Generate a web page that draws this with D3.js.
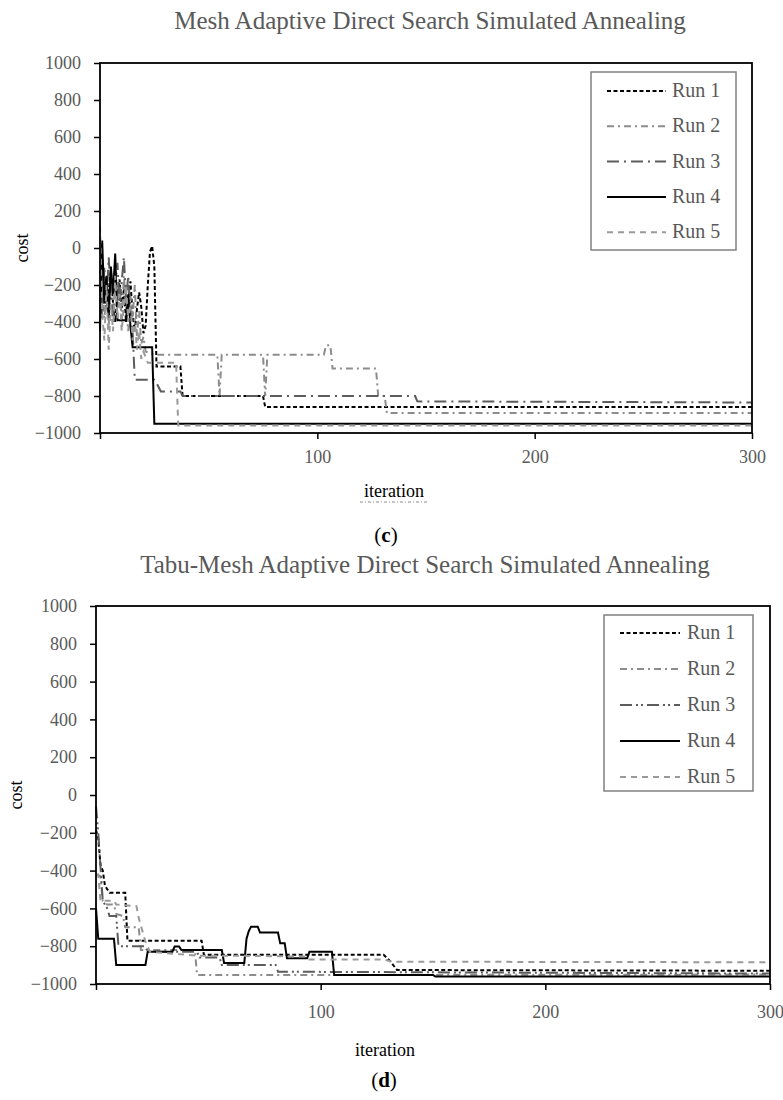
<!DOCTYPE html>
<html lang="en">
<head>
<meta charset="utf-8">
<title>Mesh Adaptive Direct Search Simulated Annealing runs</title>
<script src="https://cdn.jsdelivr.net/npm/d3@7"></script>
<style>
body { margin: 0; background: #fff; }
svg text { font-family: "Liberation Serif", "Times New Roman", serif; }
</style>
</head>
<body>
<script>

// ---- data ----
const runNames = ["Run 1", "Run 2", "Run 3", "Run 4", "Run 5"];
const iterTicks = [0, 100, 200, 300];
const costTicks = [-1000, -800, -600, -400, -200, 0, 200, 400, 600, 800, 1000];

// (c) Mesh Adaptive Direct Search Simulated Annealing : [iteration, cost]
const madsRun1 = [[0,-120],[1,-260],[2,-180],[3,-330],[4,-230],[5,-120],[6,-300],[7,-400],[8,-260],[9,-170],
  [10,-330],[11,-220],[12,-400],[13,-290],[14,-180],[15,-360],[16,-450],[17,-330],[18,-240],[19,-320],
  [20,-460],[21,-420],[22,-200],[23,-20],[24,10],[25,-100],[26,-640],[37,-640],[38,-800],[75,-800],
  [76,-859],[300,-859]];
const madsRun2 = [[0,-300],[1,-120],[2,-380],[3,-250],[4,-420],[5,-180],[6,-320],[7,-100],[8,-300],[9,-200],
  [10,-400],[11,-150],[12,-330],[13,-450],[14,-260],[15,-380],[16,-200],[17,-480],[18,-340],[19,-520],
  [20,-480],[21,-560],[25,-577],[54,-577],[55,-800],[56,-577],[75,-577],[76,-800],[77,-577],[103,-577],
  [104,-526],[106,-526],[107,-652],[127,-652],[128,-800],[131,-800],[132,-892],[300,-892]];
const madsRun3 = [[0,-200],[1,-380],[2,-100],[3,-300],[4,-50],[5,-250],[6,-400],[7,-200],[8,-80],[9,-300],
  [10,-180],[11,-50],[12,-280],[13,-150],[14,-350],[15,-450],[16,-712],[25,-712],[26,-730],[28,-775],
  [37,-775],[38,-800],[145,-800],[146,-829],[300,-835]];
const madsRun4 = [[0,-450],[1,40],[2,-300],[3,-150],[4,-380],[5,-100],[6,-250],[7,-30],[8,-390],[12,-390],
  [13,-250],[14,-420],[15,-537],[24,-537],[25,-950],[300,-950]];
const madsRun5 = [[0,120],[1,-350],[2,-500],[3,-200],[4,-550],[5,-300],[6,-450],[7,-150],[8,-380],[9,-250],
  [10,-450],[11,-300],[12,-200],[13,-400],[14,-300],[15,-500],[16,-380],[17,-550],[18,-450],[19,-600],
  [20,-560],[22,-620],[35,-620],[36,-960],[300,-960]];

// (d) Tabu-Mesh Adaptive Direct Search Simulated Annealing : [iteration, cost]
const tabuRun1 = [[0,-185],[1,-230],[2,-370],[3,-400],[4,-480],[6,-517],[13,-517],[14,-771],[47,-771],
  [48,-845],[128,-845],[131,-880],[134,-926],[300,-930]];
const tabuRun2 = [[0,-420],[2,-430],[3,-560],[5,-580],[8,-580],[9,-630],[12,-640],[13,-700],[19,-700],
  [20,-820],[44,-820],[45,-953],[300,-950]];
const tabuRun3 = [[0,-60],[1,-200],[2,-380],[3,-560],[5,-600],[6,-640],[9,-640],[10,-800],[22,-800],
  [23,-830],[45,-830],[46,-860],[55,-860],[56,-899],[80,-899],[81,-935],[300,-945]];
const tabuRun4 = [[0,-600],[1,-760],[8,-760],[9,-899],[22,-899],[23,-829],[34,-829],[35,-802],[37,-802],
  [38,-820],[56,-820],[57,-889],[66,-889],[67,-760],[68,-720],[69,-697],[72,-697],[73,-728],[81,-728],
  [82,-785],[84,-785],[85,-864],[94,-864],[95,-829],[105,-829],[106,-952],[150,-952],[151,-960],[300,-960]];
const tabuRun5 = [[0,-420],[1,-420],[2,-560],[8,-560],[9,-580],[18,-588],[19,-650],[22,-776],[24,-830],
  [45,-850],[60,-850],[93,-855],[94,-870],[128,-870],[132,-882],[300,-885]];

// ---- styles ----
const runStyles = [
  {color: "#000", dash: "4,2.5"},
  {color: "#8c8c8c", dash: "7,4,2,4"},
  {color: "#5c5c5c", dash: "12,5,2,5"},
  {color: "#000", dash: null},
  {color: "#9a9a9a", dash: "6,5"}
];
const gray = "#595959";
const serif = "'Liberation Serif', 'Times New Roman', serif";

var svg = d3.select("body").append("svg")
  .attr("width", 783)
  .attr("height", 1100)
  .attr("font-family", serif);

svg.append("rect").attr("width", 783).attr("height", 1100).attr("fill", "#fff");

function drawPanel(p) {
  var x = d3.scaleLinear().domain([0, 300]).range([p.left, p.right]);
  var y = d3.scaleLinear().domain([-1000, 1000]).range([p.bottom, p.top]);

  //title
  svg.append("text")
    .attr("x", p.titleX).attr("y", p.titleY)
    .attr("text-anchor", "middle")
    .attr("font-size", 25).attr("fill", gray)
    .text(p.title);

  //y axis
  var gy = svg.append("g")
    .attr("transform", "translate(" + p.left + ",0)")
    .call(d3.axisLeft(y).tickValues(costTicks).tickSize(6).tickSizeOuter(0).tickPadding(13)
      .tickFormat(d3.format("d")));
  gy.attr("font-family", serif).attr("font-size", 18);
  gy.select(".domain").remove();
  gy.selectAll("line").attr("stroke", "#000").attr("stroke-width", 1.5);
  gy.selectAll("text").attr("fill", gray);

  //x axis
  var gx = svg.append("g")
    .attr("transform", "translate(0," + p.bottom + ")")
    .call(d3.axisBottom(x).tickValues(iterTicks).tickSize(6).tickSizeOuter(0).tickPadding(p.xPad)
      .tickFormat(function(d) { return d === 0 ? "" : d; }));
  gx.attr("font-family", serif).attr("font-size", 18);
  gx.select(".domain").remove();
  gx.selectAll("line").attr("stroke", "#000").attr("stroke-width", 1.5);
  gx.selectAll("text").attr("fill", gray);

  //series
  var line = d3.line()
    .x(function(d) { return x(d[0]); })
    .y(function(d) { return y(d[1]); });

  p.series.forEach(function(s, i) {
    var st = runStyles[i];
    svg.append("path")
      .datum(s)
      .attr("d", line)
      .attr("fill", "none")
      .attr("stroke", st.color)
      .attr("stroke-width", 2)
      .attr("stroke-dasharray", i === 2 ? p.run3Dash : st.dash);
  });

  //plot frame
  svg.append("rect")
    .attr("x", p.left).attr("y", p.top)
    .attr("width", p.right - p.left).attr("height", p.bottom - p.top)
    .attr("fill", "none").attr("stroke", "#000").attr("stroke-width", 1.8);

  //legend
  var lg = p.legend;
  svg.append("rect")
    .attr("x", lg.x).attr("y", lg.y).attr("width", lg.w).attr("height", lg.h)
    .attr("fill", "#fff").attr("stroke", "#808080").attr("stroke-width", 1.5);
  runNames.forEach(function(name, i) {
    var st = runStyles[i];
    var ry = lg.row0 + i * lg.step;
    svg.append("line")
      .attr("x1", lg.lx0).attr("x2", lg.lx1).attr("y1", ry).attr("y2", ry)
      .attr("stroke", st.color).attr("stroke-width", 2)
      .attr("stroke-dasharray", i === 2 ? p.run3Dash : st.dash);
    svg.append("text")
      .attr("x", lg.tx).attr("y", ry + 6)
      .attr("font-size", 20).attr("fill", gray)
      .text(name);
  });

  //axis titles
  svg.append("text")
    .attr("transform", "translate(" + p.costX + "," + ((p.top + p.bottom) / 2) + ") rotate(-90)")
    .attr("text-anchor", "middle")
    .attr("font-size", 18).attr("fill", "#000")
    .text("cost");

  svg.append("text")
    .attr("x", p.iterX).attr("y", p.iterY)
    .attr("text-anchor", "middle")
    .attr("font-size", 18).attr("fill", "#000")
    .text("iteration");

  if (p.underline) {
    svg.append("line")
      .attr("x1", p.iterX - 34).attr("x2", p.iterX + 34)
      .attr("y1", p.iterY + 5).attr("y2", p.iterY + 5)
      .attr("stroke", "#8c8c8c").attr("stroke-width", 1)
      .attr("stroke-dasharray", "3,2,1,2");
  }

  //panel caption
  var cap = svg.append("text")
    .attr("x", p.capX).attr("y", p.capY)
    .attr("text-anchor", "middle")
    .attr("font-size", 21).attr("fill", "#000");
  cap.append("tspan").text("(");
  cap.append("tspan").attr("font-weight", "bold").text(p.capLetter);
  cap.append("tspan").text(")");
}

drawPanel({
  title: "Mesh Adaptive Direct Search Simulated Annealing",
  series: [madsRun1, madsRun2, madsRun3, madsRun4, madsRun5],
  left: 100, right: 752, top: 63, bottom: 433,
  titleX: 430, titleY: 29, xPad: 11,
  costX: 28, iterX: 394, iterY: 497, underline: true,
  capX: 386, capY: 542, capLetter: "c",
  run3Dash: "12,5,2,5",
  legend: {x: 591, y: 72, w: 145, h: 178, row0: 91, step: 35.3, lx0: 607, lx1: 666, tx: 672}
});

drawPanel({
  title: "Tabu-Mesh Adaptive Direct Search Simulated Annealing",
  series: [tabuRun1, tabuRun2, tabuRun3, tabuRun4, tabuRun5],
  left: 96, right: 770, top: 606, bottom: 984,
  titleX: 425, titleY: 573, xPad: 15,
  costX: 22, iterX: 385, iterY: 1056, underline: false,
  capX: 384, capY: 1087, capLetter: "d",
  run3Dash: "12,4,2,3,2,4",
  legend: {x: 604, y: 615, w: 149, h: 176, row0: 633, step: 36, lx0: 620, lx1: 680, tx: 687}
});

</script>
</body>
</html>
